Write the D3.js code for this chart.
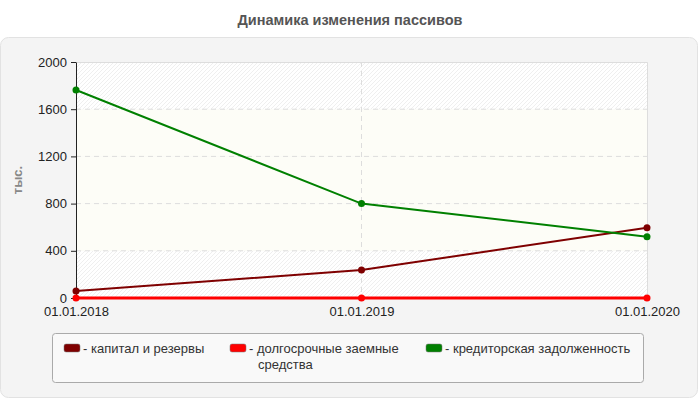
<!DOCTYPE html>
<html>
<head>
<meta charset="utf-8">
<script src="https://cdn.jsdelivr.net/npm/d3@7"></script>
<style>
    body { margin: 0; background: #fff; }
    svg { display: block; font-family: "Liberation Sans", Arial, sans-serif; }
</style>
</head>
<body>
<svg id="chart"></svg>
<script>
const dates = ['01.01.2018', '01.01.2019', '01.01.2020']
const seriesNames = ['капитал и резервы', 'долгосрочные заемные средства', 'кредиторская задолженность']
const seriesColors = ['#7f0000', '#ff0000', '#008000']
const capital = [60, 237, 595]
const longTerm = [0, 0, 0]
const payables = [1763, 800, 520]
const yTicks = [0, 400, 800, 1200, 1600, 2000]

const width = 700, height = 400
const svg = d3.select('#chart').attr('width', width).attr('height', height)

// hatch pattern for the plot bands
const defs = svg.append('defs')
const pat = defs.append('pattern')
    .attr('id', 'hatch')
    .attr('patternUnits', 'userSpaceOnUse')
    .attr('width', 4).attr('height', 4)
pat.append('rect').attr('width', 4).attr('height', 4).attr('fill', '#fff')
pat.append('path')
    .attr('d', 'M-1,1 l2,-2 M0,4 l4,-4 M3,5 l2,-2')
    .attr('stroke', '#efefef').attr('stroke-width', 1)

// title
svg.append('text')
    .attr('x', width / 2).attr('y', 25)
    .attr('text-anchor', 'middle')
    .attr('font-size', 14.5).attr('font-weight', 'bold')
    .attr('fill', '#555')
    .text('Динамика изменения пассивов')

// outer panel
svg.append('rect')
    .attr('x', 0.5).attr('y', 37.5)
    .attr('width', 697).attr('height', 360)
    .attr('rx', 8)
    .attr('fill', '#f4f4f4').attr('stroke', '#e2e2e2')

const plotL = 76, plotR = 647, plotT = 62, plotB = 298

const x = d3.scalePoint().domain(dates).range([plotL, plotR])
const y = d3.scaleLinear().domain([0, 2000]).range([plotB, plotT])

const g = svg.append('g')

// bands
for (let i = 0; i < yTicks.length - 1; i++) {
    let lo = yTicks[i], hi = yTicks[i + 1]
    let striped = (lo == 0 || lo == 1600)
    g.append('rect')
        .attr('x', plotL).attr('y', y(hi))
        .attr('width', plotR - plotL).attr('height', y(lo) - y(hi))
        .attr('fill', striped ? 'url(#hatch)' : '#fdfdf7')
}

// horizontal grid
yTicks.slice(1, -1).forEach(t => {
    g.append('line')
        .attr('x1', plotL).attr('x2', plotR)
        .attr('y1', y(t)).attr('y2', y(t))
        .attr('stroke', '#ddd').attr('stroke-dasharray', '5,4')
})
// vertical grid
g.append('line')
    .attr('x1', x(dates[1])).attr('x2', x(dates[1]))
    .attr('y1', plotT).attr('y2', plotB)
    .attr('stroke', '#ddd').attr('stroke-dasharray', '5,4')
// top and right border
g.append('path')
    .attr('d', `M${plotL},${plotT + 0.5}H${plotR + 0.5}V${plotB}`)
    .attr('fill', 'none').attr('stroke', '#ddd')

// y axis
const yAxis = g.append('g')
    .attr('transform', `translate(${plotL},0)`)
    .call(d3.axisLeft(y).tickValues(yTicks).tickFormat(d3.format('d'))
        .tickSize(5).tickSizeOuter(0).tickPadding(4))
yAxis.select('.domain').attr('stroke', '#222')
yAxis.selectAll('.tick line').attr('stroke', '#222')
yAxis.selectAll('text').attr('font-size', 13).attr('fill', '#222')
    .attr('font-family', '"Liberation Sans", Arial, sans-serif')

// x axis labels
const xAxis = g.append('g')
    .attr('transform', `translate(0,${plotB})`)
    .call(d3.axisBottom(x).tickSize(0).tickPadding(9))
xAxis.select('.domain').remove()
xAxis.selectAll('text').attr('font-size', 13).attr('fill', '#222')
    .attr('font-family', '"Liberation Sans", Arial, sans-serif')

// y label
svg.append('text')
    .attr('transform', 'translate(22,180) rotate(-90)')
    .attr('text-anchor', 'middle')
    .attr('font-size', 13).attr('font-weight', 'bold')
    .attr('fill', '#888')
    .text('тыс.')

// lines
const allSeries = [capital, longTerm, payables]
const line = d3.line().x((d, i) => x(dates[i])).y(d => y(d))
const order = [0, 2, 1]
order.forEach(k => {
    g.append('path')
        .attr('d', line(allSeries[k]))
        .attr('fill', 'none')
        .attr('stroke', seriesColors[k])
        .attr('stroke-width', k == 1 ? 3 : 2)
    g.selectAll(null)
        .data(allSeries[k])
        .enter().append('circle')
        .attr('cx', (d, i) => x(dates[i]))
        .attr('cy', d => y(d))
        .attr('r', 3.5)
        .attr('fill', seriesColors[k])
})

// legend
svg.append('rect')
    .attr('x', 52.5).attr('y', 333.5)
    .attr('width', 591).attr('height', 49)
    .attr('rx', 3)
    .attr('fill', '#f9f9f9').attr('stroke', '#aaa')

const legendX = [64, 230, 426]
const legendLines = [['капитал и резервы'], ['долгосрочные заемные', 'средства'], ['кредиторская задолженность']]
seriesNames.forEach((name, i) => {
    let lg = svg.append('g').attr('transform', `translate(${legendX[i]},343)`)
    lg.append('rect')
        .attr('x', 0).attr('y', 1)
        .attr('width', 16).attr('height', 8).attr('rx', 2)
        .attr('fill', seriesColors[i]).attr('stroke', '#777').attr('stroke-width', 0.5)
    let t = lg.append('text')
        .attr('x', 19).attr('y', 10)
        .attr('font-size', 13).attr('fill', '#333')
    legendLines[i].forEach((ln, j) => {
        t.append('tspan')
            .attr('x', j == 0 ? 19 : 28)
            .attr('dy', j == 0 ? 0 : 16)
            .text((j == 0 ? '- ' : '') + ln)
    })
})
</script>
</body>
</html>
